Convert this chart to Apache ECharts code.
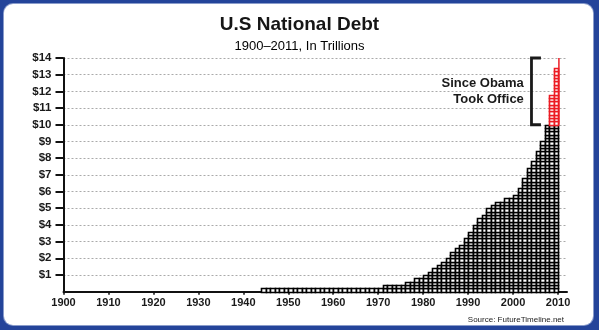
<!DOCTYPE html>
<html><head><meta charset="utf-8">
<script src="https://cdn.jsdelivr.net/npm/echarts@6/dist/echarts.min.js"></script>
<style>
html,body{margin:0;padding:0;width:599px;height:330px;overflow:hidden;background:#24449a;}
#panel{position:absolute;left:4px;top:4px;width:589px;height:321px;background:#fff;border-radius:9px;box-shadow:0 0 0 1px #8a9ccb;}
#chart{position:absolute;left:0;top:0;width:599px;height:330px;}
</style></head><body>
<div id="panel"></div><div id="chart"></div>
<script>
// ---- data (trillions of dollars) ----
const years = [1945,1946,1947,1948,1949,1950,1951,1952,1953,1954,1955,1956,1957,1958,1959,
  1960,1961,1962,1963,1964,1965,1966,1967,1968,1969,1970,1971,1972,1973,1974,1975,1976,1977,
  1978,1979,1980,1981,1982,1983,1984,1985,1986,1987,1988,1989,1990,1991,1992,1993,1994,1995,
  1996,1997,1998,1999,2000,2001,2002,2003,2004,2005,2006,2007,2008,2009,2010,2011];
const debt = [0.2,0.2,0.2,0.2,0.2,0.2,0.2,0.2,0.2,0.2,0.2,0.2,0.2,0.2,0.2,
  0.2,0.2,0.2,0.2,0.2,0.2,0.2,0.2,0.2,0.2,0.2,0.2,0.4,0.4,0.4,0.4,0.4,0.6,
  0.6,0.8,0.8,1.0,1.2,1.4,1.6,1.8,2.0,2.4,2.6,2.8,3.2,3.6,4.0,4.4,4.6,5.0,
  5.2,5.4,5.4,5.6,5.6,5.8,6.2,6.8,7.4,7.8,8.4,9.0,10.0,11.8,13.4,14.0];
const obamaFirstYear = 2009;      // red part starts here
const partialYear = 2011;         // drawn only as a thin line (partial year)
const partialFraction = 0.2;      // share of that year elapsed
const xTickValues = [1900,1910,1920,1930,1940,1950,1960,1970,1980,1990,2000,2010];
const yTickValues = [1,2,3,4,5,6,7,8,9,10,11,12,13,14];
const yTickLabels = ['$1','$2','$3','$4','$5','$6','$7','$8','$9','$10','$11','$12','$13','$14'];
const cellValue = 0.2;            // each brick = $0.2 trillion
const xMin = 1900, xMax = 2012, yMax = 14;

// ---- build series data: [year position, from, to] ----
const baseDebt = debt[years.indexOf(obamaFirstYear - 1)];
const blackData = [], redData = [];
years.forEach((y, i) => {
  if (y === partialYear) return;
  const pos = y - 0.5; // bar for year Y fills the year ending at Y
  if (y >= obamaFirstYear) {
    blackData.push([pos, 0, baseDebt]);
    redData.push([pos, baseDebt, debt[i]]);
  } else {
    blackData.push([pos, 0, debt[i]]);
  }
});
const partialData = [[partialYear - 1 + partialFraction, baseDebt, debt[years.indexOf(partialYear)]]];

const FONT = '"Liberation Sans", Arial, Helvetica, sans-serif';
const RED = '#ec1c24';

function renderBricks(color) {
  return function (params, api) {
    const x = api.value(0), lo = api.value(1), hi = api.value(2);
    const xl = api.coord([x - 0.5, lo])[0], xr = api.coord([x + 0.5, lo])[0];
    const L = Math.round(xl) + 0.5, R = Math.round(xr) + 0.5;
    const n = Math.round((hi - lo) / cellValue);
    const children = [];
    for (let k = 0; k < n; k++) {
      const yb = api.coord([x, lo + k * cellValue])[1];
      const yt = api.coord([x, lo + (k + 1) * cellValue])[1];
      const T = Math.round(yt) + 0.5, B = Math.round(yb) + 0.5;
      children.push({type: 'rect', shape: {x: L, y: T, width: R - L, height: B - T},
        style: {fill: '#fff', stroke: color, lineWidth: 1.6}});
    }
    return {type: 'group', children};
  };
}
function renderThinLine(params, api) {
  const x = api.value(0);
  const p0 = api.coord([x, api.value(1)]), p1 = api.coord([x, api.value(2)]);
  return {type: 'line', shape: {x1: p0[0], y1: p0[1], x2: p1[0], y2: p1[1]},
    style: {stroke: RED, lineWidth: 1.5}};
}

const chart = echarts.init(document.getElementById('chart'), null, {renderer: 'canvas'});
chart.setOption({
  animation: false,
  backgroundColor: 'transparent',
  textStyle: {fontFamily: FONT},
  title: [
    {text: 'U.S National Debt', left: 'center', top: 10,
     textStyle: {fontSize: 19, fontWeight: 'bold', color: '#161616', fontFamily: FONT}},
    {text: '1900–2011, In Trillions', left: 'center', top: 35,
     textStyle: {fontSize: 13, fontWeight: 'normal', color: '#000', fontFamily: FONT}},
    {text: 'Source: FutureTimeline.net', right: 30, top: 311,
     textStyle: {fontSize: 8, fontWeight: 'normal', color: '#222', fontFamily: FONT}}
  ],
  grid: {left: 63.5, top: 58, height: 233.7, right: 32, containLabel: false},
  xAxis: {
    type: 'value', min: xMin, max: xMax, interval: 10,
    axisLine: {show: true, onZero: false, lineStyle: {color: '#111', width: 2}},
    axisTick: {show: true, customValues: xTickValues, length: 3, lineStyle: {color: '#111', width: 1.5}},
    axisLabel: {customValues: xTickValues, formatter: v => String(v), fontSize: 11,
      fontWeight: 'bold', color: '#1a1a1a', margin: 6, fontFamily: FONT},
    splitLine: {show: false}
  },
  yAxis: {
    type: 'value', min: 0, max: yMax, interval: 1,
    axisLine: {show: true, onZero: false, lineStyle: {color: '#111', width: 2}},
    axisTick: {show: true, customValues: yTickValues, length: 8, lineStyle: {color: '#111', width: 2}},
    axisLabel: {customValues: yTickValues,
      formatter: v => yTickLabels[yTickValues.indexOf(v)] || '',
      fontSize: 11.5, fontWeight: 'bold', color: '#1a1a1a', margin: 12, fontFamily: FONT},
    splitLine: {show: true, lineStyle: {color: '#aaa', width: 1, type: [2, 2]}}
  },
  series: [
    {type: 'custom', name: 'Debt', data: blackData, encode: {x: 0, y: 2},
     renderItem: renderBricks('#000'), silent: true, z: 3},
    {type: 'custom', name: 'Since Obama', data: redData, encode: {x: 0, y: 2},
     renderItem: renderBricks(RED), silent: true, z: 3},
    {type: 'custom', name: 'Partial year', data: partialData, encode: {x: 0, y: 2},
     renderItem: renderThinLine, silent: true, z: 3}
  ]
});

// ---- annotation: bracket + label, placed in data coordinates ----
const bracketX = [2004.1, 2006.2];
const labelAt = [2002.4, 12];
const P = p => chart.convertToPixel({gridIndex: 0}, p);
const b = [[bracketX[1], yMax], [bracketX[0], yMax], [bracketX[0], baseDebt], [bracketX[1], baseDebt]].map(P);
const lp = P(labelAt);
chart.setOption({
  graphic: [
    {type: 'polyline', shape: {points: b}, style: {stroke: '#1a1a1a', lineWidth: 2.8, fill: null, lineJoin: 'miter'}, z: 10},
    {type: 'text', x: lp[0], y: lp[1], z: 10,
     style: {text: 'Since Obama\nTook Office', fill: '#1a1a1a', font: 'bold 13px ' + FONT,
       align: 'right', verticalAlign: 'middle', lineHeight: 16}}
  ]
});
</script>
</body></html>
